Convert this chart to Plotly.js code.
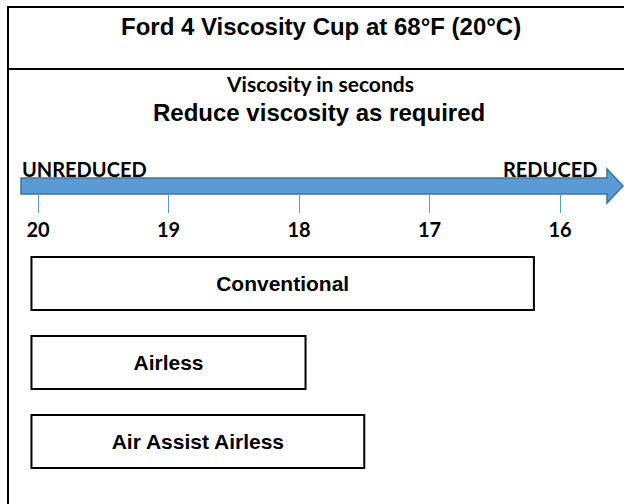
<!DOCTYPE html>
<html>
<head>
<meta charset="utf-8">
<script src="https://cdn.plot.ly/plotly-3.0.1.min.js"></script>
<style>html,body{margin:0;padding:0;background:#fff;}#chart{width:624px;height:504px;}</style>
</head>
<body>
<div id="chart"></div>
<script>
// ---- data ----
const tickValues = [20, 19, 18, 17, 16];
const tickLabels = ['20', '19', '18', '17', '16'];
const methods = ['Conventional', 'Airless', 'Air Assist Airless'];
const startSec = [20.05, 20.05, 20.05];
const endSec = [16.2, 17.95, 17.5];
const titleText = 'Ford 4 Viscosity Cup at 68°F (20°C)';
const subtitle1 = 'Viscosity in seconds';
const subtitle2 = 'Reduce viscosity as required';
const leftLabel = 'UNREDUCED';
const rightLabel = 'REDUCED';

// ---- helpers (pixel -> paper) ----
const W = 624, H = 504;
const px = x => x / W;
const py = y => 1 - y / H;

const ARROW_FILL = '#5B9BD5';
const ARROW_LINE = '#41719C';

const trace = {
  type: 'bar',
  orientation: 'h',
  y: methods,
  base: startSec,
  x: endSec.map((e, i) => e - startSec[i]),
  text: methods,
  textposition: 'inside',
  insidetextanchor: 'middle',
  constraintext: 'none',
  textfont: {family: 'Liberation Sans, Arial, sans-serif', size: 21, color: '#000', weight: 'bold'},
  marker: {color: '#ffffff', line: {color: '#000000', width: 2}},
  hoverinfo: 'none',
  cliponaxis: false
};

const arrowPath = [
  'M', px(21), ',', py(178),
  ' L', px(607), ',', py(178),
  ' L', px(607), ',', py(169),
  ' L', px(623), ',', py(186),
  ' L', px(607), ',', py(203),
  ' L', px(607), ',', py(194),
  ' L', px(21), ',', py(194), ' Z'
].join('');

const layout = {
  width: W, height: H,
  margin: {l: 0, r: 0, t: 0, b: 0, pad: 0},
  paper_bgcolor: '#fff', plot_bgcolor: 'rgba(0,0,0,0)',
  showlegend: false,
  bargap: 0.33,
  xaxis: {
    type: 'linear',
    range: [20 + 38 / 130.5, 16 - (624 - 560) / 130.5],
    domain: [0, 1],
    anchor: 'free', position: py(194),
    tickmode: 'array', tickvals: tickValues, ticktext: tickLabels,
    ticks: 'outside', ticklen: 18, tickwidth: 1, tickcolor: ARROW_FILL,
    ticklabelstandoff: 0,
    tickfont: {family: 'Lato, sans-serif', size: 20, color: '#000', weight: 'bold'},
    showgrid: false, zeroline: false, showline: false, fixedrange: true
  },
  yaxis: {
    type: 'category',
    categoryorder: 'array', categoryarray: methods,
    range: [2.5, -0.5],
    domain: [py(481), py(244)],
    visible: false, fixedrange: true
  },
  shapes: [
    {type: 'line', xref: 'paper', yref: 'paper', x0: px(8), x1: 1, y0: py(7), y1: py(7), line: {color: '#000', width: 2}},
    {type: 'line', xref: 'paper', yref: 'paper', x0: px(8), x1: 1, y0: py(69), y1: py(69), line: {color: '#000', width: 2}},
    {type: 'line', xref: 'paper', yref: 'paper', x0: px(8), x1: px(8), y0: py(6), y1: 0, line: {color: '#000', width: 2}},
    {type: 'path', xref: 'paper', yref: 'paper', path: arrowPath, fillcolor: ARROW_FILL, line: {color: ARROW_LINE, width: 1.5}}
  ],
  annotations: [
    {text: titleText, xref: 'paper', yref: 'paper', x: px(321), y: py(26), xanchor: 'center', yanchor: 'middle', showarrow: false,
     font: {family: 'Liberation Sans, Arial, sans-serif', size: 24, color: '#000', weight: 'bold'}},
    {text: subtitle1, xref: 'paper', yref: 'paper', x: px(320), y: py(84), xanchor: 'center', yanchor: 'middle', showarrow: false,
     font: {family: 'Lato, sans-serif', size: 21, color: '#000', weight: 'bold'}},
    {text: subtitle2, xref: 'paper', yref: 'paper', x: px(319), y: py(113), xanchor: 'center', yanchor: 'middle', showarrow: false,
     font: {family: 'Liberation Sans, Arial, sans-serif', size: 24, color: '#000', weight: 'bold'}},
    {text: leftLabel, xref: 'paper', yref: 'paper', x: px(20), y: py(169), xanchor: 'left', yanchor: 'middle', showarrow: false,
     font: {family: 'Lato, sans-serif', size: 20, color: '#000', weight: 'bold'}},
    {text: rightLabel, xref: 'paper', yref: 'paper', x: px(599), y: py(169), xanchor: 'right', yanchor: 'middle', showarrow: false,
     font: {family: 'Lato, sans-serif', size: 20, color: '#000', weight: 'bold'}}
  ]
};

Plotly.newPlot('chart', [trace], layout, {displayModeBar: false, staticPlot: true});
</script>
</body>
</html>
